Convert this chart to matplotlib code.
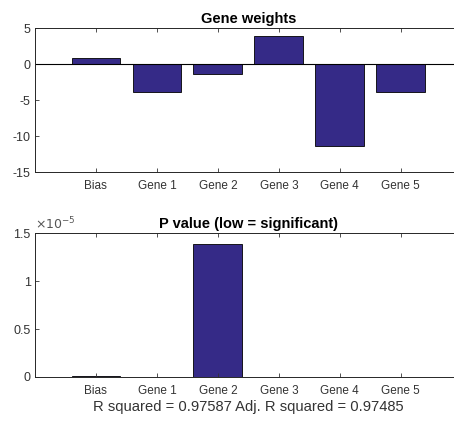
"""
Gene weights and p values bar charts (MATLAB-style look)
"""
import matplotlib
matplotlib.use('Agg')
import matplotlib.pyplot as plt
from matplotlib.ticker import FuncFormatter

plt.rcParams['font.family'] = ['Liberation Sans', 'DejaVu Sans']
plt.rcParams['axes.unicode_minus'] = False

labels = ['Bias', 'Gene 1', 'Gene 2', 'Gene 3', 'Gene 4', 'Gene 5']
weights = [0.82, -3.85, -1.3, 4.0, -11.35, -3.85]
p_values = [1.2e-7, 0.0, 1.385e-5, 0.0, 0.0, 0.0]
r_sq = 0.97587
adj_r_sq = 0.97485

BAR_COLOR = '#352a87'
TEXT_COLOR = '#333333'

fig = plt.figure(figsize=(4.54, 4.23), dpi=100)
ax1 = fig.add_axes([0.077, 0.593, 0.94, 0.340])
ax2 = fig.add_axes([0.077, 0.109, 0.94, 0.339])

xs = list(range(1, len(labels) + 1))


def style_axes(ax):
    ax.set_xlim(0, 7)
    ax.set_xticks(xs)
    ax.set_xticklabels(labels)
    ax.tick_params(direction='in', top=True, right=True, length=3,
                   width=0.6, labelsize=8.5, colors=TEXT_COLOR, pad=6)
    ax.tick_params(axis='y', pad=3, labelsize=9)
    for s in ax.spines.values():
        s.set_linewidth(0.7)
        s.set_color('#262626')


# Gene weights
ax1.bar(xs, weights, width=0.8, color=BAR_COLOR, edgecolor='black', linewidth=0.6)
ax1.axhline(0, color='black', linewidth=0.8)
ax1.set_ylim(-15, 5)
ax1.set_yticks([-15, -10, -5, 0, 5])
style_axes(ax1)
ax1.set_title('Gene weights', fontsize=10.5, fontweight='bold', pad=4)

# P values
ax2.bar(xs, p_values, width=0.8, color=BAR_COLOR, edgecolor='black', linewidth=0.6)
ax2.set_ylim(0, 1.5e-5)
ax2.set_yticks([0, 0.5e-5, 1e-5, 1.5e-5])
ax2.yaxis.set_major_formatter(FuncFormatter(lambda v, pos: '{:g}'.format(round(v * 1e5, 6))))
style_axes(ax2)
ax2.text(0.0, 1.01, r'$\times10^{-5}$', transform=ax2.transAxes, fontsize=9,
         color='#555555', ha='left', va='bottom')
ax2.set_title('P value (low = significant)', fontsize=10.5, fontweight='bold', pad=4)
ax2.set_xlabel('R squared = {:.5f} Adj. R squared = {:.5f}'.format(r_sq, adj_r_sq),
               fontsize=10.6, color=TEXT_COLOR, labelpad=2)

fig.savefig('out.png', dpi=100)
